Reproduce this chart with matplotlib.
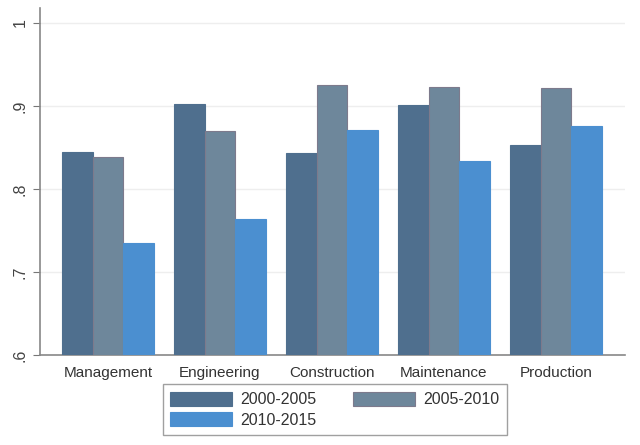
import numpy as np
import matplotlib
matplotlib.use('Agg')
import matplotlib.pyplot as plt

plt.rcParams['font.family'] = ['Liberation Sans', 'DejaVu Sans']

categories = ['Management', 'Engineering', 'Construction', 'Maintenance', 'Production']
periods = ['2000-2005', '2005-2010', '2010-2015']
v_2000_2005 = [0.845, 0.902, 0.843, 0.901, 0.853]
v_2005_2010 = [0.839, 0.870, 0.925, 0.923, 0.922]
v_2010_2015 = [0.735, 0.764, 0.871, 0.834, 0.876]
yticks = [0.6, 0.7, 0.8, 0.9, 1.0]
ytick_labels = ['.6', '.7', '.8', '.9', '1']

colors = ['#4f6f8e', '#6e879b', '#4b8fd0']
edges = ['#4f6f8e', '#7d7a8c', '#4b8fd0']

fig = plt.figure(figsize=(6.4, 4.45), dpi=100)
ax = fig.add_axes([0.0625, 0.202, 0.914, 0.78])

x = np.arange(len(categories))
w = 0.274
series = [v_2000_2005, v_2005_2010, v_2010_2015]
bars = []
for i, vals in enumerate(series):
    b = ax.bar(x + (i - 1) * w, np.array(vals) - 0.6, width=w, bottom=0.6,
               color=colors[i], edgecolor=edges[i], linewidth=0.8,
               label=periods[i], zorder=3)
    bars.append(b)

ax.set_ylim(0.6, 1.018)
ax.set_xlim(-0.607, 4.616)
ax.set_yticks(yticks)
ax.set_yticklabels(ytick_labels, rotation=90, va='center', color='#444444', fontsize=11.5)
ax.set_xticks(x)
ax.set_xticklabels(categories, color='#333333', fontsize=11)
ax.tick_params(axis='x', length=0, pad=8)
ax.tick_params(axis='y', length=5, color='#777777', pad=4)
ax.yaxis.grid(True, color='#eeeeee', linewidth=1, zorder=0)
for s in ['top', 'right']:
    ax.spines[s].set_visible(False)
for s in ['left', 'bottom']:
    ax.spines[s].set_color('#888888')
    ax.spines[s].set_linewidth(1.2)

# row-wise order like the original
order = [0, 2, 1]
leg = fig.legend([bars[i] for i in order], [periods[i] for i in order],
                 loc='lower center', bbox_to_anchor=(0.523, 0.005), ncol=2,
                 fontsize=11.5, frameon=True, fancybox=False,
                 handlelength=3.9, handleheight=1.0, columnspacing=2.3,
                 labelspacing=0.3, borderpad=0.45, handletextpad=0.5)
leg.get_frame().set_edgecolor('#888888')
leg.get_frame().set_linewidth(1.0)
for t in leg.get_texts():
    t.set_color('#333333')

fig.savefig('out.png', dpi=100)
